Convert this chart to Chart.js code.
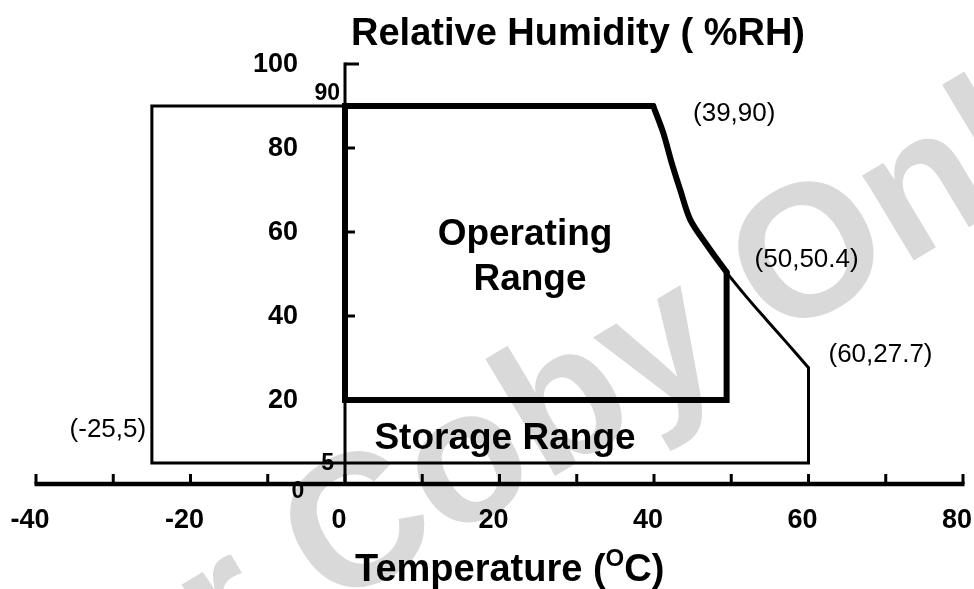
<!DOCTYPE html>
<html>
<head>
<meta charset="utf-8">
<script src="https://cdn.jsdelivr.net/npm/chart.js@4.4.1/dist/chart.umd.min.js"></script>
<style>
  html, body { margin: 0; padding: 0; background: #fff; }
  #wrap { width: 974px; height: 589px; }
</style>
</head>
<body>
<div id="wrap"><canvas id="chart" width="974" height="589"></canvas></div>
<script>
// ---------- DATA ----------
const tempMin = -40, tempMax = 80;
const rhMin = 0, rhMax = 100;

const tempTicks = [-40, -30, -20, -10, 0, 10, 20, 30, 40, 50, 60, 70, 80];
const tempLabels = [-40, -20, 0, 20, 40, 60, 80];
const rhTicks = [100, 80, 60, 40, 20];
const rhLabels = [100, 80, 60, 40, 20];
const rhSmallLabels = [90, 5];

// storage range, straight sides
const storageT = [60, 60, -25, -25, 39.9];
const storageRH = [27.7, 5, 5, 90, 90];

// operating range, straight sides
const operT = [49.4, 49.4, 0, 0, 39.9];
const operRH = [50.4, 20, 20, 90, 90];

// curved upper right edge (shared), first 7 points belong to operating range
const curveT = [39.9, 41.2, 42.3, 43.4, 44.7, 47.0, 49.4, 52, 54.6, 57.2, 60];
const curveRH = [90, 83.6, 76.4, 70, 62.9, 56.5, 50.4, 44.5, 39, 33.6, 27.7];
const operCurveLen = 7;

// corner notes
const cornerText = ["(39,90)", "(50,50.4)", "(60,27.7)", "(-25,5)"];
const cornerT = [39.9, 49.4, 60, -25];
const cornerRH = [90, 50.4, 27.7, 5];

const FONT = '"Liberation Sans", Arial, sans-serif';

function pts(xs, ys) {
  return xs.map((x, i) => ({ x: x, y: ys[i] }));
}

function lineSet(data, width, curved) {
  return {
    data: data,
    showLine: true,
    borderColor: "#000",
    borderWidth: width,
    pointRadius: 0,
    fill: false,
    tension: curved ? 0.3 : 0,
    borderJoinStyle: "miter",
    borderCapStyle: "round",
  };
}

// ---------- PLUGIN: background, watermark, axes, texts ----------
const decor = {
  id: "decor",
  beforeDraw(chart) {
    const ctx = chart.ctx;
    ctx.save();
    ctx.fillStyle = "#fff";
    ctx.fillRect(0, 0, chart.width, chart.height);

    // watermark
    const fs = 188;
    ctx.font = "bold " + fs + "px " + FONT;
    const pre = ctx.measureText("For ").width;
    const cw = ctx.measureText("C").width;
    ctx.translate(353, 519);
    ctx.rotate(-31 * Math.PI / 180);
    ctx.fillStyle = "#d9d9d9";
    ctx.textBaseline = "alphabetic";
    ctx.textAlign = "left";
    ctx.fillText("For Coby Only", -(pre + cw / 2), 0.358 * fs);
    ctx.restore();
  },
  beforeDatasetsDraw(chart) {
    const ctx = chart.ctx;
    const xs = chart.scales.x, ys = chart.scales.y;
    const x0 = xs.getPixelForValue(0);
    const y0 = ys.getPixelForValue(0);
    ctx.save();
    ctx.strokeStyle = "#000";
    ctx.lineCap = "butt";

    // temperature axis
    ctx.lineWidth = 4.5;
    ctx.beginPath();
    ctx.moveTo(xs.getPixelForValue(tempMin) - 1.5, y0);
    ctx.lineTo(xs.getPixelForValue(tempMax) + 1.5, y0);
    ctx.stroke();
    ctx.lineWidth = 3;
    tempTicks.forEach((t) => {
      const x = xs.getPixelForValue(t);
      ctx.beginPath();
      ctx.moveTo(x, y0);
      ctx.lineTo(x, y0 - 10);
      ctx.stroke();
    });

    // humidity axis
    ctx.lineWidth = 3;
    ctx.beginPath();
    ctx.moveTo(x0, y0);
    ctx.lineTo(x0, ys.getPixelForValue(rhMax) - 1.5);
    ctx.stroke();
    rhTicks.forEach((v) => {
      const y = ys.getPixelForValue(v);
      ctx.beginPath();
      ctx.moveTo(x0, y);
      ctx.lineTo(x0 + (v === rhMax ? 14 : 10), y);
      ctx.stroke();
    });
    ctx.restore();
  },
  afterDatasetsDraw(chart) {
    const ctx = chart.ctx;
    const xs = chart.scales.x, ys = chart.scales.y;
    const x0 = xs.getPixelForValue(0);
    const y0 = ys.getPixelForValue(0);
    ctx.save();
    ctx.fillStyle = "#000";

    // temperature tick labels
    ctx.font = "bold 27px " + FONT;
    ctx.textAlign = "center";
    ctx.textBaseline = "middle";
    tempLabels.forEach((t) => {
      ctx.fillText(String(t), xs.getPixelForValue(t) - 6, y0 + 37);
    });

    // humidity tick labels
    ctx.textAlign = "right";
    rhLabels.forEach((v) => {
      ctx.fillText(String(v), x0 - 47, ys.getPixelForValue(v) + 1);
    });
    ctx.font = "bold 23px " + FONT;
    ctx.fillText(String(rhSmallLabels[0]), x0 - 5, ys.getPixelForValue(rhSmallLabels[0]) - 12);
    ctx.fillText(String(rhSmallLabels[1]), x0 - 11, ys.getPixelForValue(rhSmallLabels[1]) + 1);
    ctx.textAlign = "center";
    ctx.fillText("0", x0 - 47, y0 + 8);

    // corner notes
    const offs = [[81, 8], [80, -12], [72, -13], [-44, -33]];
    ctx.font = "26px " + FONT;
    cornerText.forEach((txt, i) => {
      ctx.fillText(txt, xs.getPixelForValue(cornerT[i]) + offs[i][0],
        ys.getPixelForValue(cornerRH[i]) + offs[i][1]);
    });

    // region names
    ctx.font = "bold 37px " + FONT;
    ctx.textBaseline = "alphabetic";
    ctx.fillText("Operating", 525, 245);
    ctx.fillText("Range", 530, 290);
    ctx.fillText("Storage Range", 505, 449);

    // axis titles
    ctx.font = "bold 38px " + FONT;
    ctx.fillText("Relative Humidity ( %RH)", 578, 45);
    ctx.textAlign = "left";
    let x = 355;
    const a = "Temperature (";
    ctx.fillText(a, x, 581);
    x += ctx.measureText(a).width;
    ctx.font = "bold 24px " + FONT;
    ctx.fillText("O", x, 566);
    x += ctx.measureText("O").width;
    ctx.font = "bold 38px " + FONT;
    ctx.fillText("C)", x, 581);
    ctx.restore();
  },
};

// ---------- CHART ----------
new Chart(document.getElementById("chart"), {
  type: "scatter",
  data: {
    datasets: [
      lineSet(pts(storageT, storageRH), 3, false),
      lineSet(pts(curveT, curveRH), 3, true),
      lineSet(pts(operT, operRH), 6, false),
      lineSet(pts(curveT.slice(0, operCurveLen), curveRH.slice(0, operCurveLen)), 6, true),
    ],
  },
  options: {
    responsive: false,
    animation: false,
    layout: { padding: { left: 36, right: 11, top: 64, bottom: 105 } },
    scales: {
      x: { type: "linear", min: tempMin, max: tempMax, display: false },
      y: { type: "linear", min: rhMin, max: rhMax, display: false },
    },
    plugins: {
      legend: { display: false },
      tooltip: { enabled: false },
    },
  },
  plugins: [decor],
});
</script>
</body>
</html>
